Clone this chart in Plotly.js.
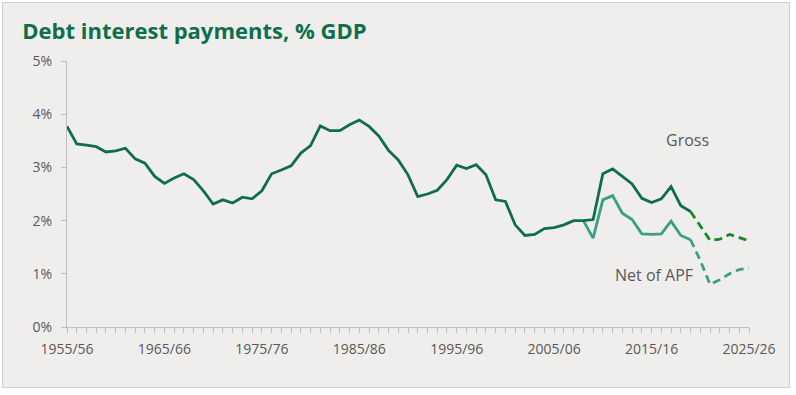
<!DOCTYPE html>
<html>
<head>
<meta charset="utf-8">
<script src="https://cdn.plot.ly/plotly-3.0.1.min.js"></script>
<style>
  html, body { margin: 0; padding: 0; background: #ffffff; }
  #frame { position: absolute; left: 2px; top: 2px; width: 786px; height: 384px;
           border: 1px solid #cdcdcd; background: #efeeed; }
  #chart { position: absolute; left: 0; top: 0; width: 796px; height: 395px; }
</style>
</head>
<body>
<div id="frame"></div>
<div id="chart"></div>
<script>
// Fiscal years, identified by their starting calendar year (1955 = 1955/56)
const years = [1955,1956,1957,1958,1959,1960,1961,1962,1963,1964,
               1965,1966,1967,1968,1969,1970,1971,1972,1973,1974,
               1975,1976,1977,1978,1979,1980,1981,1982,1983,1984,
               1985,1986,1987,1988,1989,1990,1991,1992,1993,1994,
               1995,1996,1997,1998,1999,2000,2001,2002,2003,2004,
               2005,2006,2007,2008,2009,2010,2011,2012,2013,2014,
               2015,2016,2017,2018,2019];
const grossOutturn = [3.77,3.44,3.42,3.39,3.29,3.31,3.36,3.16,3.08,2.83,
                      2.70,2.80,2.88,2.77,2.56,2.31,2.39,2.33,2.44,2.41,
                      2.56,2.88,2.95,3.03,3.27,3.41,3.78,3.69,3.69,3.80,
                      3.89,3.77,3.59,3.32,3.14,2.86,2.45,2.50,2.57,2.77,
                      3.04,2.98,3.05,2.86,2.39,2.36,1.92,1.72,1.74,1.85,
                      1.87,1.92,2.00,2.00,2.02,2.88,2.97,2.83,2.69,2.42,
                      2.34,2.41,2.64,2.28,2.17];
const netYears = [2008,2009,2010,2011,2012,2013,2014,2015,2016,2017,2018,2019];
const netOutturn = [2.00,1.67,2.39,2.47,2.14,2.02,1.75,1.74,1.75,1.99,1.72,1.64];

const forecastYears = [2019,2020,2021,2022,2023,2024,2025];
const grossForecast = [2.17,1.89,1.63,1.65,1.74,1.68,1.62];
const netForecast   = [1.64,1.25,0.80,0.89,1.00,1.08,1.11];

const tickYears  = [1955,1965,1975,1985,1995,2005,2015,2025];
const tickLabels = ['1955/56','1965/66','1975/76','1985/86','1995/96','2005/06','2015/16','2025/26'];
const yTicks = [0,1,2,3,4,5];
const yTickLabels = ['0%','1%','2%','3%','4%','5%'];

const GROSS = '#0e6e4c';
const GROSS_F = '#128a25';
const NET = '#3b9e86';
const FONT = '"Open Sans", sans-serif';

const traces = [
  {x: netYears, y: netOutturn, mode: 'lines', line: {color: NET, width: 2.8}, hoverinfo: 'skip'},
  {x: forecastYears, y: netForecast, mode: 'lines', line: {color: NET, width: 2.8, dash: '8px,5px'}, hoverinfo: 'skip'},
  {x: years, y: grossOutturn, mode: 'lines', line: {color: GROSS, width: 2.8}, hoverinfo: 'skip'},
  {x: forecastYears, y: grossForecast, mode: 'lines', line: {color: GROSS_F, width: 2.8, dash: '8px,5px'}, hoverinfo: 'skip'}
];

const layout = {
  width: 796, height: 395,
  margin: {l: 67, r: 47, t: 61, b: 68, pad: 0},
  paper_bgcolor: 'rgba(0,0,0,0)',
  plot_bgcolor: 'rgba(0,0,0,0)',
  showlegend: false,
  font: {family: FONT, color: '#595959', size: 14},
  title: {
    text: 'Debt interest payments, % GDP',
    font: {family: FONT, size: 22, color: '#0e6e4c', weight: 700},
    xref: 'container', yref: 'container',
    x: 0.028, xanchor: 'left', y: 0.922, yanchor: 'middle'
  },
  xaxis: {
    range: [1955, 2025],
    tickmode: 'array', tickvals: tickYears, ticktext: tickLabels,
    ticks: 'outside', ticklen: 5, tickwidth: 1, tickcolor: '#bfbfbf',
    minor: {tickmode: 'linear', tick0: 1955, dtick: 1, ticks: 'outside', ticklen: 5, tickwidth: 1, tickcolor: '#bfbfbf', showgrid: false},
    showline: true, linecolor: '#bfbfbf', linewidth: 1,
    showgrid: false, zeroline: false,
    tickfont: {family: FONT, size: 14, color: '#595959'},
    ticklabelstandoff: 4
  },
  yaxis: {
    range: [0, 5],
    tickmode: 'array', tickvals: yTicks, ticktext: yTickLabels,
    ticks: 'outside', ticklen: 5, tickwidth: 1, tickcolor: '#bfbfbf',
    showline: true, linecolor: '#bfbfbf', linewidth: 1,
    showgrid: false, zeroline: false,
    tickfont: {family: FONT, size: 14, color: '#595959'},
    ticklabelstandoff: 6
  },
  annotations: [
    {x: 2018.7, y: 3.51, xref: 'x', yref: 'y', text: 'Gross', showarrow: false,
     font: {family: FONT, size: 16, color: '#595959'}},
    {x: 2015.2, y: 0.985, xref: 'x', yref: 'y', text: 'Net of APF', showarrow: false,
     font: {family: FONT, size: 16, color: '#595959'}}
  ]
};

Plotly.newPlot('chart', traces, layout, {staticPlot: true, displayModeBar: false});
</script>
</body>
</html>
